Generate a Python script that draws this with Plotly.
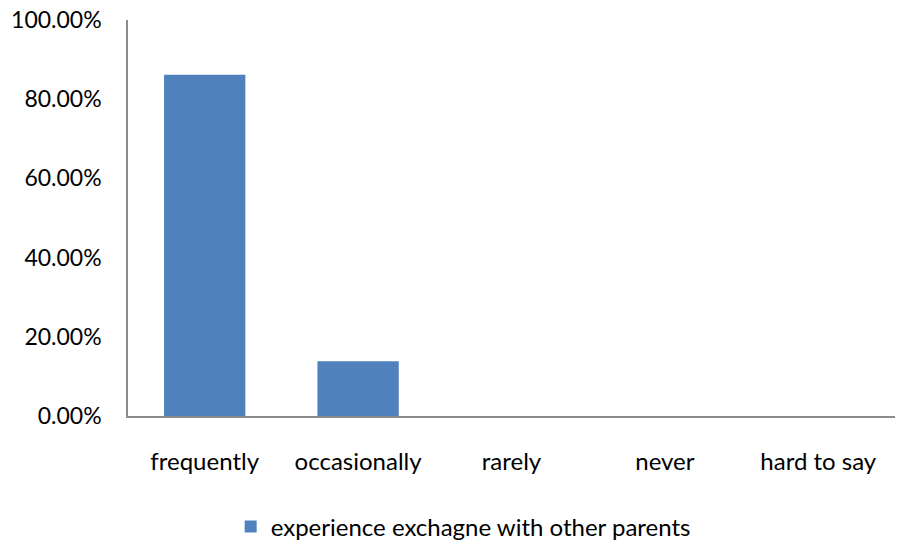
import plotly.graph_objects as go

categories = ["frequently", "occasionally", "rarely", "never", "hard to say"]
shares = [0.862, 0.138, 0.0, 0.0, 0.0]
series_name = "experience exchagne with other parents"
y_ticks = [0, 0.2, 0.4, 0.6, 0.8, 1.0]

FONT = "Lato"
FS = 23

fig = go.Figure()
fig.add_trace(go.Bar(
    x=categories,
    y=shares,
    name=series_name,
    marker=dict(color="#4F81BD", line=dict(width=0)),
    showlegend=True,
))

fig.update_layout(
    width=901,
    height=545,
    margin=dict(l=128, r=6, t=20, b=129, autoexpand=False),
    paper_bgcolor="white",
    plot_bgcolor="white",
    font=dict(family=FONT, size=FS, color="#000000"),
    bargap=0.47,
    showlegend=True,
    legend=dict(
        orientation="h",
        x=0.437, xanchor="center",
        y=-0.28, yanchor="middle",
        font=dict(family=FONT, size=24, color="#000000"),
        itemwidth=30,
    ),
    xaxis=dict(
        showline=True, linecolor="#8c8c8c", linewidth=1.5,
        showgrid=False, ticks="", ticklabelstandoff=23, automargin=False,
        tickfont=dict(family=FONT, size=24),
    ),
    yaxis=dict(
        range=[0, 1.0], tickvals=y_ticks, tickformat=".2%",
        showline=True, linecolor="#8c8c8c", linewidth=1.5,
        showgrid=False, zeroline=False, ticks="", ticklabelstandoff=20,
        automargin=False,
        tickfont=dict(family=FONT, size=FS),
    ),
)

fig.write_html("out.html")
